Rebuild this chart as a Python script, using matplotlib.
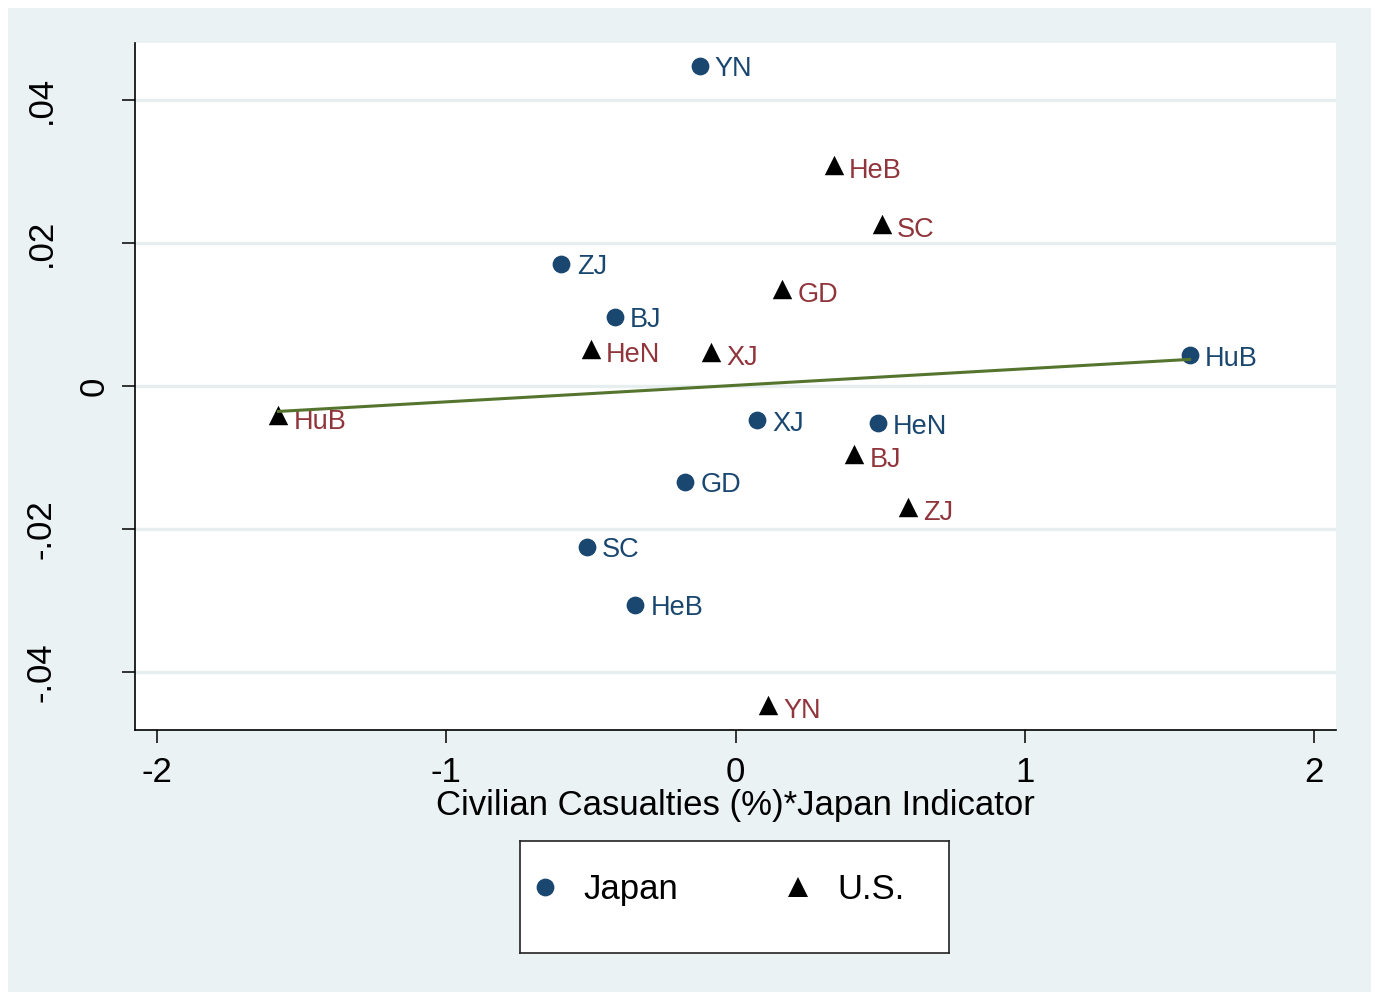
import numpy as np
import matplotlib
matplotlib.use("Agg")
import matplotlib.pyplot as plt
from matplotlib.lines import Line2D
from matplotlib.patches import Rectangle

plt.rcParams['font.family'] = ['Liberation Sans', 'DejaVu Sans']

# Province residuals, Japan-weighted casualties
jp_names = ["YN", "ZJ", "BJ", "HuB", "XJ", "HeN", "GD", "SC", "HeB"]
jp_x = [-0.124, -0.602, -0.418, 1.570, 0.073, 0.491, -0.173, -0.515, -0.346]
jp_y = [0.0448, 0.0171, 0.0097, 0.0043, -0.0048, -0.0052, -0.0134, -0.0225, -0.0306]

# Province residuals, U.S.
us_names = ["HeB", "SC", "GD", "HeN", "XJ", "HuB", "BJ", "ZJ", "YN"]
us_x = [0.339, 0.505, 0.162, -0.501, -0.083, -1.580, 0.411, 0.595, 0.114]
us_y = [0.0309, 0.0227, 0.0136, 0.0052, 0.0048, -0.0041, -0.0095, -0.0169, -0.0446]

x_ticks = [-2, -1, 0, 1, 2]
x_ticklabels = ["-2", "-1", "0", "1", "2"]
y_ticks = [-0.04, -0.02, 0.0, 0.02, 0.04]
y_ticklabels = ["-.04", "-.02", "0", ".02", ".04"]

NAVY = "#1a476f"
MAROON = "#90353b"
GREEN = "#55752f"
BG = "#eaf2f3"
GRID = "#e6eef0"

W, H = 1375, 994
fig = plt.figure(figsize=(W / 100, H / 100), dpi=100, facecolor="white")
fig.patches.append(Rectangle((8 / W, 2 / H), 1363 / W, 984 / H,
                             transform=fig.transFigure, facecolor=BG,
                             edgecolor="none", zorder=-10))

ax = fig.add_axes([135 / W, (H - 730) / H, 1201 / W, 687 / H])
ax.set_facecolor("white")
ax.set_xlim(-2.076, 2.076)
ax.set_ylim(-0.04811, 0.04797)

for s in ("top", "right"):
    ax.spines[s].set_visible(False)
for s in ("left", "bottom"):
    ax.spines[s].set_linewidth(1.2)
    ax.spines[s].set_color("black")

ax.set_xticks(x_ticks)
ax.set_xticklabels(x_ticklabels, fontsize=25)
ax.set_yticks(y_ticks)
ax.set_yticklabels([])
ax.tick_params(axis="both", direction="out", length=9.5, width=1.1, color="black")
ax.tick_params(axis="x", pad=9)
ax.yaxis.grid(True, color=GRID, linewidth=2.4)
ax.set_axisbelow(True)

# rotated y tick labels
ytrans = ax.get_yaxis_transform()
for v, lab in zip(y_ticks, y_ticklabels):
    xpos = -94 if lab != "0" else -41
    ax.annotate(lab, (0, v), xycoords=ytrans, xytext=(xpos * 0.72, 0),
                textcoords="offset points", rotation=90, ha="center",
                va="center", fontsize=25, annotation_clip=False)

ax.set_xlabel("Civilian Casualties (%)*Japan Indicator", fontsize=25, labelpad=0)

ax.scatter(jp_x, jp_y, s=12.8 ** 2, marker="o", color=NAVY, zorder=3, linewidths=0)
ax.scatter(us_x, us_y, s=14 ** 2, marker="^", color="black", zorder=3, linewidths=0)

for n, x, y in zip(jp_names, jp_x, jp_y):
    ax.annotate(n, (x, y), xytext=(11, -2.6), textcoords="offset points",
                ha="left", va="center", fontsize=19.5, color=NAVY)
for n, x, y in zip(us_names, us_x, us_y):
    ax.annotate(n, (x, y), xytext=(11, -4.6), textcoords="offset points",
                ha="left", va="center", fontsize=19.5, color=MAROON)

# linear fit over all observations
all_x = np.array(jp_x + us_x)
all_y = np.array(jp_y + us_y)
b, a = np.polyfit(all_x, all_y, 1)
fx = np.array([all_x.min(), all_x.max()])
ax.plot(fx, a + b * fx, color=GREEN, linewidth=2.2, zorder=4)

# legend box
lax = fig.add_axes([520 / W, (H - 953) / H, 429 / W, 112 / H])
lax.set_facecolor("white")
lax.set_xticks([])
lax.set_yticks([])
for s in lax.spines.values():
    s.set_linewidth(1.2)
    s.set_color("#222222")
handles = [
    Line2D([], [], marker="o", linestyle="none", color=NAVY, markersize=12.8, markeredgewidth=0),
    Line2D([], [], marker="^", linestyle="none", color="black", markersize=14, markeredgewidth=0),
]
lax.legend(handles, ["Japan", "U.S."], ncol=2, loc="center left",
           bbox_to_anchor=(0.0, 0.565), borderaxespad=0, borderpad=0.22,
           frameon=False, fontsize=25, handlelength=1.0, handletextpad=0.62,
           columnspacing=2.95)

fig.savefig("out.png", dpi=100, facecolor="white")
